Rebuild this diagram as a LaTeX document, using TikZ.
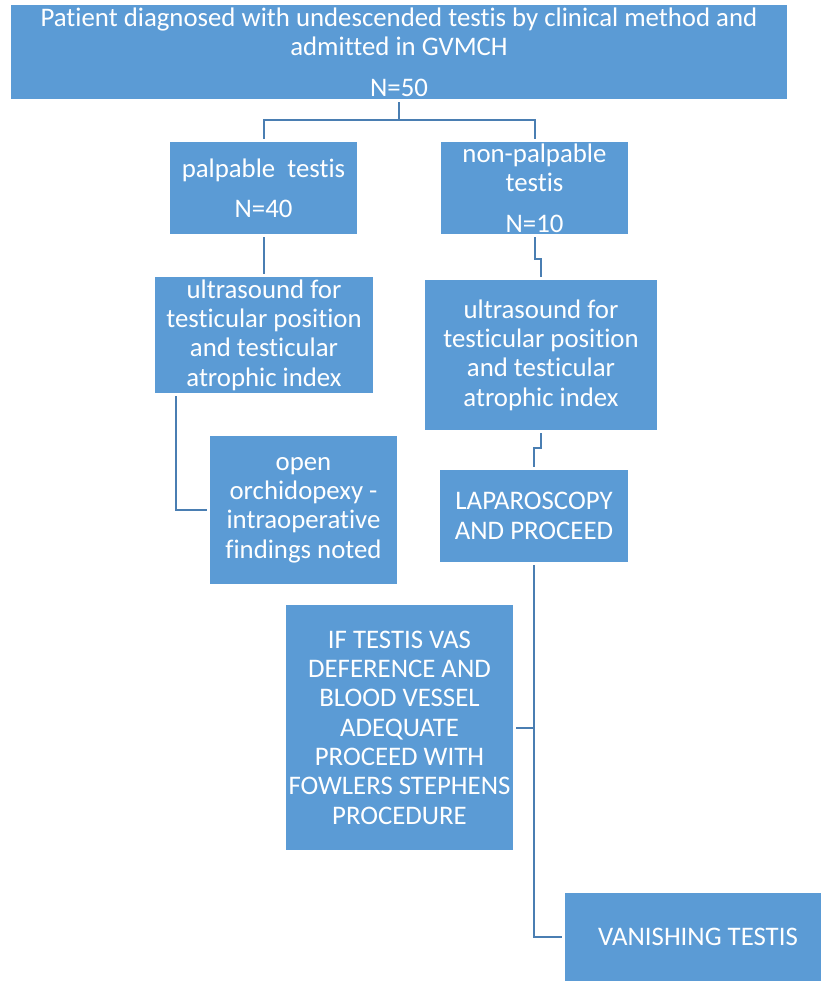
\documentclass[tikz,border=0pt]{standalone}
\usepackage{fontspec}
\setmainfont{Carlito}[Ligatures={NoCommon}]
\usepackage{tikz}
\definecolor{boxblue}{HTML}{5B9BD5}
\definecolor{lineblue}{HTML}{4A7EB2}

\begin{document}
\begin{tikzpicture}[x=1pt, y=-1pt,
    box/.style={fill=boxblue, text=white, inner sep=0pt, align=center,
      font=\fontsize{26.8}{29.3}\selectfont},
    conn/.style={draw=lineblue, line width=2pt, shorten <=3pt, shorten >=3pt}]
    \def\gap{11pt}

    \useasboundingbox (0,0) rectangle (821,981);

    \node[box, minimum width=776, minimum height=94] (patient) at (399,52)
      {Patient diagnosed with undescended testis by clinical method and\\ admitted in GVMCH\\[\gap] N=50};

    \node[box, minimum width=187, minimum height=92] (palp) at (263.5,188)
      {palpable \ testis\\[\gap] N=40};
    \node[box, minimum width=187, minimum height=92] (nonpalp) at (534.5,188)
      {non-palpable\\ testis\\[\gap] N=10};

    \node[box, minimum width=218, minimum height=116] (uslft) at (264,335)
      {ultrasound for\\ testicular position\\ and testicular\\ atrophic index};
    \node[box, minimum width=232, minimum height=150] (usrgt) at (541,355)
      {ultrasound for\\ testicular position\\ and testicular\\ atrophic index};

    \node[box, minimum width=187, minimum height=148] (orchid) at (303.5,510)
      {open\\ orchidopexy -\\ intraoperative\\ findings noted};
    \node[box, minimum width=188, minimum height=92] (lap) at (534,516)
      {LAPAROSCOPY\\ AND PROCEED};

    \node[box, minimum width=227, minimum height=245] (fowler) at (399.5,727.5)
      {IF TESTIS VAS\\ DEFERENCE AND\\ BLOOD VESSEL\\ ADEQUATE\\ PROCEED WITH\\ FOWLERS STEPHENS\\ PROCEDURE};
    \node[box, minimum width=256, minimum height=88] (vanish) at (693,937)
      {\hspace{10pt}VANISHING TESTIS};

    \draw[conn, shorten >=0pt] (patient.south) -- ++(0,21) coordinate (split);
    \draw[conn, shorten <=0pt] (split) -| (palp.north);
    \draw[conn, shorten <=0pt] (split) -| (nonpalp.north);

    \draw[conn] (palp.south) -- (palp.south |- uslft.north);
    \draw[conn] (nonpalp.south) -- ++(0,25) -| (usrgt.north);

    \draw[conn] ([xshift=21pt]uslft.south west) |- (orchid.west);
    \draw[conn] (usrgt.south) -- ++(0,18) -| (lap.north);

    \draw[conn] (lap.south) -- (lap.south |- vanish.west) -- (vanish.west);
    \draw[conn, shorten >=0pt] (fowler.east) -- (fowler.east -| lap.south);
\end{tikzpicture}
\end{document}
